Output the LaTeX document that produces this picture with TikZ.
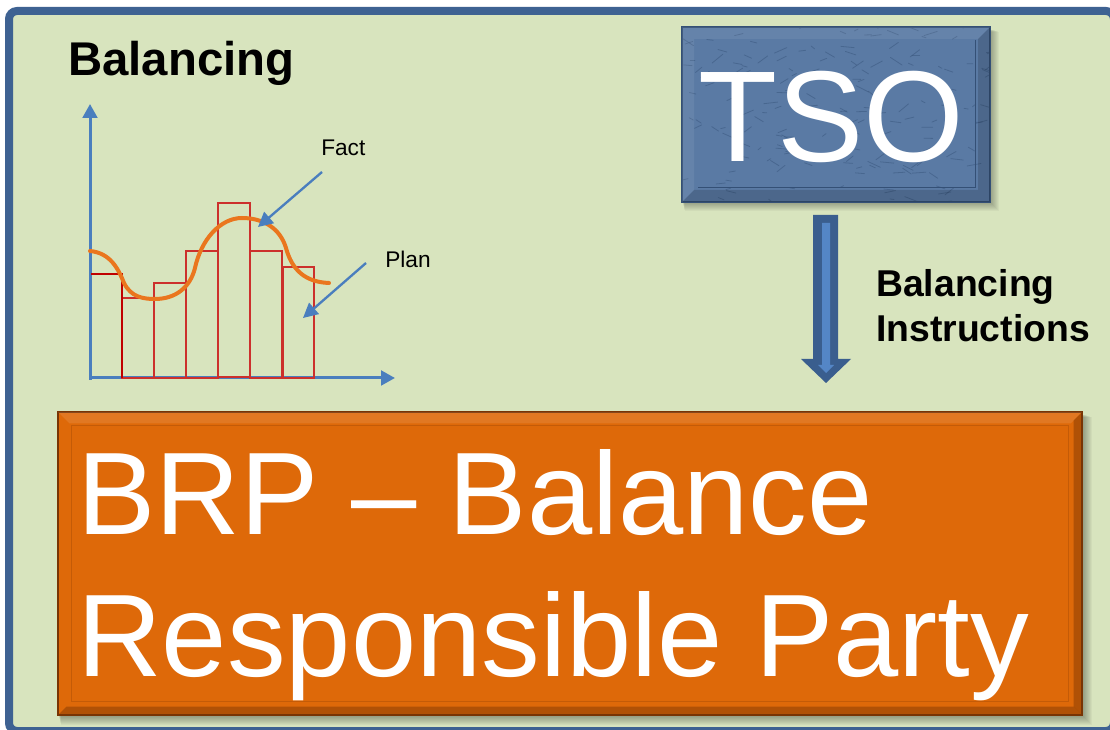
\documentclass[tikz,border=0pt]{standalone}
\usepackage{fontspec}
\setmainfont{Liberation Sans}
\usetikzlibrary{arrows.meta,calc}

\definecolor{bgGreen}{RGB}{216,228,190}
\definecolor{frameBlue}{RGB}{62,98,146}
\definecolor{axisBlue}{RGB}{74,126,190}
\definecolor{barRed}{RGB}{204,48,44}
\definecolor{planRed}{RGB}{192,0,0}
\definecolor{factOrange}{RGB}{234,118,30}
\definecolor{tsoFill}{RGB}{90,122,164}
\definecolor{tsoDark}{RGB}{52,80,118}
\definecolor{brpFill}{RGB}{222,105,9}
\definecolor{brpDark}{RGB}{120,52,4}
\definecolor{arrDark}{RGB}{58,94,142}
\definecolor{arrLight}{RGB}{84,134,198}

\tikzset{
  axisline/.style={draw=axisBlue, line width=2.25pt, -{Triangle[length=10.5pt,width=11pt]}},
  pointer/.style={draw=axisBlue, line width=1.75pt, -{Triangle[length=11pt,width=11pt]}},
  planbar/.style={draw=barRed, line width=1.2pt},
  labeltext/.style={inner sep=0pt, font=\fontsize{17}{20}\selectfont},
  headtext/.style={inner sep=0pt, font=\bfseries\fontsize{28}{30}\selectfont},
  softshadow/.style={fill=black, opacity=0.035},
  tsobox/.style={fill=tsoFill, draw=tsoDark, line width=0.8pt, inner sep=0pt,
    minimum width=231pt, minimum height=131.25pt},
  brpbox/.style={fill=brpFill, draw=brpDark, line width=0.8pt, inner sep=0pt,
    minimum width=768pt, minimum height=227.25pt},
  brptext/.style={anchor=base west, inner sep=0pt, text=white, font=\fontsize{88}{100}\selectfont}
}

\begin{document}
\begin{tikzpicture}[x=0.75pt,y=0.75pt,yscale=-1,xscale=1]
\useasboundingbox (0,0) rectangle (1110,730);

%Frame
\draw [frameBlue, fill=bgGreen, line width=6pt, rounded corners=6pt] (9,11) rectangle (1114,731);

% Text Node
\node [inner sep=0pt, font=\bfseries\fontsize{35.5}{40}\selectfont, anchor=base west] (title) at (68,76) {Balancing};

%Axes
\coordinate (origin) at (90,378);
\coordinate (yEnd) at (90,104);
\coordinate (xEnd) at (395,378);
\draw [axisline] (90,380) -- (yEnd);
\draw [axisline] (origin) -- (xEnd);

%Plan bars
\draw [planbar] (122,378) rectangle (154,298);
\draw [planbar] (154,378) rectangle (186,283);
\draw [planbar] (186,378) rectangle (218,251);
\draw [planbar] (218,377) rectangle (250,203);
\draw [planbar] (250,378) rectangle (282,251);
\draw [planbar] (283,378) rectangle (314,267);
\draw [planRed, line width=1.7pt] (91,274) -- (122,274) -- (122,378);

%Fact curve
\draw [factOrange, line width=3pt, line cap=round]
  (90,251) .. controls (110,253) and (118,268) .. (124,283)
  .. controls (131,297) and (143,299) .. (155,299)
  .. controls (175,299) and (190,288) .. (195,268)
  .. controls (201,240) and (220,218) .. (242,218)
  .. controls (263,218) and (280,228) .. (286,248)
  .. controls (292,270) and (305,282) .. (329,283);

% Text Node
\node [labeltext, anchor=base west] (fact) at (321,156) {Fact};
\node [labeltext, anchor=base west] (plan) at (385,268) {Plan};
\coordinate (factFrom) at (322,172);
\coordinate (factTip) at (258,227);
\coordinate (planFrom) at (366,263);
\coordinate (planTip) at (303,318);
\draw [pointer] (factFrom) -- (factTip);
\draw [pointer] (planFrom) -- (planTip);

%TSO box
\foreach \k in {1,...,9}
  \fill [softshadow] (682+0.3*\k,29+0.3*\k) rectangle (990+\k,202+\k);
\node [tsobox] (tso) at (836,114.5) {};
\begin{scope}
  \clip (682,27) rectangle (990,202);
  \pgfmathsetseed{11}
  \foreach \i in {1,...,170}{
    \pgfmathsetmacro{\tx}{682+308*rnd}
    \pgfmathsetmacro{\ty}{27+175*rnd}
    \pgfmathsetmacro{\ta}{-40+80*rnd}
    \pgfmathsetmacro{\tl}{4+10*rnd}
    \draw [tsoDark, opacity=0.45, line width=0.6pt, line cap=round] (\tx,\ty) -- ++(\ta:\tl);
  }
  \fill [white, opacity=0.07] (682,27) -- (990,27) -- (978,39) -- (694,39) -- (694,190) -- (682,202) -- cycle;
  \fill [black, opacity=0.15] (990,27) -- (990,202) -- (682,202) -- (694,190) -- (978,190) -- (978,39) -- cycle;
\end{scope}
\draw [tsoDark, line width=0.5pt] (975,40) -- (975,187) -- (698,187);
\draw [tsoDark, line width=0.8pt] (tso.north west) rectangle (tso.south east);
\node [text=white, inner sep=0pt, font=\fontsize{97}{100}\selectfont, anchor=base] (tsoText) at (831,162) {TSO};

%Instruction arrow
\coordinate (arrTop) at (826,215);
\coordinate (arrTip) at (826,383);
\fill [arrDark] ($(arrTop)+(-13,0)$) -- ($(arrTop)+(12,0)$) -- ($(arrTip)+(12,-24)$) -- ($(arrTip)+(25,-24)$)
  -- (arrTip) -- ($(arrTip)+(-25,-24)$) -- ($(arrTip)+(-13,-24)$) -- cycle;
\fill [arrLight] ($(arrTop)+(-4,8)$) -- ($(arrTop)+(4,8)$) -- ($(arrTip)+(4,-18)$) -- ($(arrTip)+(8,-18)$)
  -- ($(arrTip)+(0,-10)$) -- ($(arrTip)+(-8,-18)$) -- ($(arrTip)+(-4,-18)$) -- cycle;

% Text Node
\node [headtext, anchor=base west] (instr1) at (876,297) {Balancing};
\node [headtext, anchor=base west] (instr2) at (876,342) {Instructions};

%BRP box
\foreach \k in {1,...,10}
  \fill [softshadow] (58+0.3*\k,414+0.3*\k) rectangle (1082+\k,715+\k);
\node [brpbox] (brp) at (570,563.5) {};
\fill [white, opacity=0.10] (brp.north west) -- (brp.north east) -- ($(brp.north east)+(-12,12)$) -- ($(brp.north west)+(12,12)$) -- cycle;
\fill [brpDark, opacity=0.45] (brp.north east) -- (brp.south east) -- ($(brp.south east)+(-9,-9)$) -- ($(brp.north east)+(-9,9)$) -- cycle;
\fill [brpDark, opacity=0.45] (brp.south west) -- (brp.south east) -- ($(brp.south east)+(-9,-9)$) -- ($(brp.south west)+(9,-9)$) -- cycle;
\draw [brpDark, opacity=0.25, line width=0.6pt] ($(brp.north west)+(14,14)$) rectangle ($(brp.south east)+(-14,-14)$);
\draw [brpDark, line width=0.8pt] (brp.north west) rectangle (brp.south east);
\node [brptext] (brp1) at (77,535) {BRP – Balance};
\node [brptext] (brp2) at (77,676) {Responsible Party};

\end{tikzpicture}
\end{document}
